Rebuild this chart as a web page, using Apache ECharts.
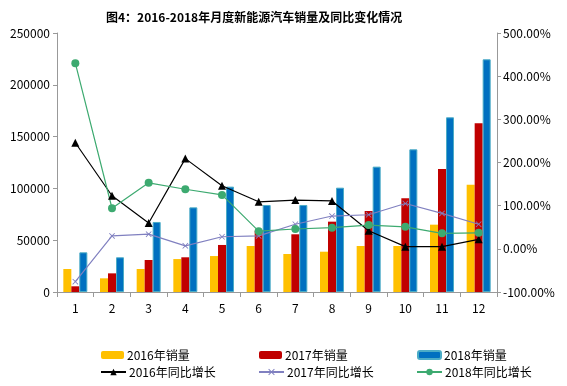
<!DOCTYPE html>
<html><head><meta charset="utf-8">
<script src="https://cdn.jsdelivr.net/npm/echarts@6/dist/echarts.min.js"></script>
<style>html,body{margin:0;padding:0;background:#fff}#c{width:567px;height:386px}</style>
</head><body><div id="c"></div>
<script>
const months = ['1','2','3','4','5','6','7','8','9','10','11','12'];
const sales2016 = [22200,13200,22200,31800,34700,44400,36700,38900,44400,44400,65000,103600];
const sales2017 = [5500,18000,30900,33500,45400,59200,55700,67900,78200,90400,118700,162800];
const sales2018 = [38300,33500,67600,81700,101700,84000,84000,100700,121000,137700,168600,224600];
const yoy2016 = [245.8,123,60,209,146,109,113,111,42,5,5,22];
const yoy2017 = [-76,30,34,7,28,30,57,76,79,105,82,57];
const yoy2018 = [430,94,153,138,125,41,46,49,55,51,36,37];
const leftTicks = {min:0,max:250000,interval:50000};
const rightTicks = {min:-100,max:500,interval:100};

const FONT = 'Noto Sans CJK SC';
const xMark = 'path://M0,1L1,0L5,4L9,0L10,1L6,5L10,9L9,10L5,6L1,10L0,9L4,5Z';
const chart = echarts.init(document.getElementById('c'));
function lg(name, left, top, isBar){
  return {data:[name], left:left, top:top, itemWidth:isBar?23:25, itemHeight:8,
    itemGap:4, textStyle:{fontSize:12,color:'#000',fontFamily:FONT,padding:[0,0,0,-2]}, padding:0};
}
chart.setOption({
  animation:false,
  textStyle:{fontFamily:FONT},
  title:{text:'图4：2016-2018年月度新能源汽车销量及同比变化情况', left:101, top:6,
    textStyle:{fontSize:12,fontWeight:'bold',color:'#000',fontFamily:FONT}},
  grid:{left:57,right:70,top:33,bottom:94},
  legend:[
    lg('2016年销量',101,349,true), lg('2017年销量',259,349,true), lg('2018年销量',417,349,true),
    lg('2016年同比增长',100,366,false), lg('2017年同比增长',258,366,false), lg('2018年同比增长',416,366,false)
  ],
  xAxis:{type:'category',data:months,
    axisLine:{lineStyle:{color:'#999'}},
    axisTick:{show:true,alignWithLabel:false,length:5,lineStyle:{color:'#999'}},
    axisLabel:{color:'#000',fontSize:12,margin:10,fontFamily:FONT}},
  yAxis:[
    {type:'value',min:leftTicks.min,max:leftTicks.max,interval:leftTicks.interval,
      axisLine:{show:true,lineStyle:{color:'#999'}},
      axisTick:{show:true,length:4,lineStyle:{color:'#999'}},
      splitLine:{show:false},
      axisLabel:{color:'#000',fontSize:12,margin:7,fontFamily:FONT,formatter:v=>String(v)}},
    {type:'value',min:rightTicks.min,max:rightTicks.max,interval:rightTicks.interval,position:'right',
      axisLine:{show:true,lineStyle:{color:'#999'}},
      axisTick:{show:true,length:4,lineStyle:{color:'#999'}},
      splitLine:{show:false},
      axisLabel:{color:'#000',fontSize:12,margin:6,fontFamily:FONT,
        formatter:v=>v.toFixed(2)+'%'}}
  ],
  series:[
    {name:'2016年销量',type:'bar',data:sales2016,barWidth:8,barGap:'0%',
      itemStyle:{color:'#FFC000'}},
    {name:'2017年销量',type:'bar',data:sales2017,barWidth:8,barGap:'0%',
      itemStyle:{color:'#C00000'}},
    {name:'2018年销量',type:'bar',data:sales2018,barWidth:8,barGap:'0%',
      itemStyle:{color:'#0070C0',borderColor:'#4BACC6',borderWidth:1}},
    {name:'2016年同比增长',type:'line',yAxisIndex:1,data:yoy2016,
      symbol:'triangle',symbolSize:8,lineStyle:{color:'#000',width:1.2},itemStyle:{color:'#000'}},
    {name:'2017年同比增长',type:'line',yAxisIndex:1,data:yoy2017,
      symbol:xMark,symbolSize:6,lineStyle:{color:'#8080C0',width:1.2},itemStyle:{color:'#8080C0'}},
    {name:'2018年同比增长',type:'line',yAxisIndex:1,data:yoy2018,
      symbol:'circle',symbolSize:8,lineStyle:{color:'#3DAA70',width:1.2},itemStyle:{color:'#3DAA70'}}
  ]
});
</script></body></html>
